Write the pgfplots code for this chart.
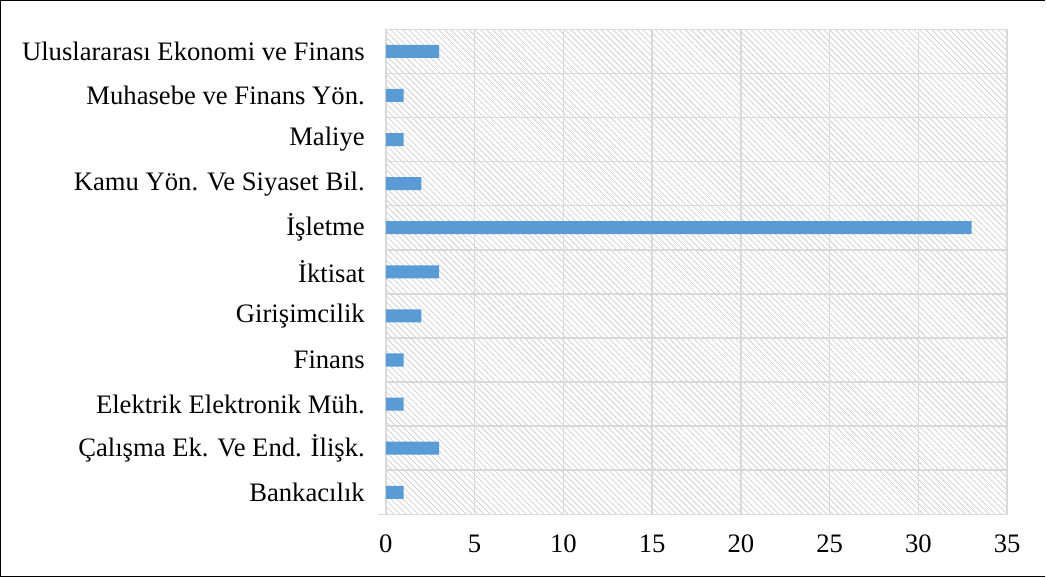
\documentclass[border=0pt]{standalone}
\usepackage{fontspec}
\setmainfont{Liberation Serif}
\usepackage{pgfplots}
\pgfplotsset{compat=1.18}
\usetikzlibrary{patterns}
\definecolor{barblue}{HTML}{5B9BD5}
\definecolor{gridgray}{HTML}{D9D9D9}
\begin{document}
\begin{tikzpicture}
\begin{axis}[
  scale only axis,
  width=310pt, height=242pt,
  xbar, bar width=6.5pt,
  xmin=0, xmax=35,
  ymin=-0.5, ymax=10.5,
  xtick={0,5,...,35},
  ytick={0,...,10},
  yticklabels={Bankacılık, Çalışma Ek. Ve End. İlişk., Elektrik Elektronik Müh., Finans, Girişimcilik, İktisat, İşletme, Kamu Yön. Ve Siyaset Bil., Maliye, Muhasebe ve Finans Yön., Uluslararası Ekonomi ve Finans},
  minor ytick={-0.5,0.5,...,10.5},
  xmajorgrids, yminorgrids,
  major grid style={gridgray, line width=0.75pt},
  minor grid style={gridgray, line width=0.75pt},
  axis line style={gridgray, line width=0.75pt},
  major tick length=0pt, minor tick length=0pt,
  tick style={draw=none},
  font=\fontsize{13.3}{16}\selectfont,
  /pgf/number format/assume math mode=true,
  xticklabel style={yshift=-8pt, text height=1.6ex, text depth=0.3ex},
  yticklabel style={xshift=-7pt},
  axis background/.style={pattern=north west lines, pattern color=gray!35},
  clip=false,
]
\addplot[fill=barblue, draw=none] coordinates {
  (1,0) (3,1) (1,2) (1,3) (2,4) (3,5) (33,6) (2,7) (1,8) (1,9) (3,10)
};
\draw[gridgray, line width=0.75pt] (rel axis cs:-0.013,0) -- (rel axis cs:0,0);
\draw[black, line width=0.7pt] (rel axis cs:1.0614,1.059) -- (rel axis cs:-0.620,1.059)
  -- (rel axis cs:-0.620,-0.128) -- (rel axis cs:1.0614,-0.128);
\end{axis}
\end{tikzpicture}
\end{document}
